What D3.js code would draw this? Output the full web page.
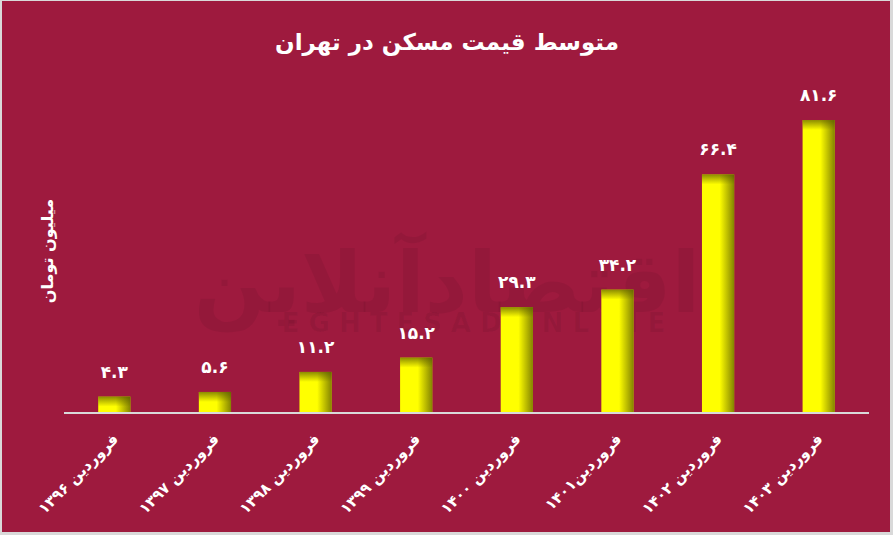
<!DOCTYPE html>
<html><head><meta charset="utf-8">
<script src="https://cdn.jsdelivr.net/npm/d3@7"></script>
<style>
html,body{margin:0;padding:0;background:#fff;}
svg{display:block;}
text{font-family:"DejaVu Sans",sans-serif;}
</style></head>
<body>
<svg id="chart" width="893" height="535"></svg>
<script>
const title = "متوسط قیمت مسکن در تهران";
const yAxisTitle = "میلیون تومان";
const categories = ["فروردین ۱۳۹۶","فروردین ۱۳۹۷","فروردین ۱۳۹۸","فروردین ۱۳۹۹","فروردین ۱۴۰۰","فروردین۱۴۰۱","فروردین ۱۴۰۲","فروردین ۱۴۰۳"];
const values = [4.3, 5.6, 11.2, 15.2, 29.3, 34.2, 66.4, 81.6];
const yDomain = [0, 90];

const W = 893, H = 535;
const bg = "#9E1A3E";
const svg = d3.select("#chart");

const toFa = s => String(s).replace(/\d/g, d => "۰۱۲۳۴۵۶۷۸۹"[+d]);

const defs = svg.append("defs");
const gH = defs.append("linearGradient").attr("id","shadeR").attr("x1","0").attr("x2","1").attr("y1","0").attr("y2","0");
gH.append("stop").attr("offset","0.55").attr("stop-color","#5a5a00").attr("stop-opacity",0);
gH.append("stop").attr("offset","1").attr("stop-color","#5a5a00").attr("stop-opacity",0.75);
const gV = defs.append("linearGradient").attr("id","shadeT").attr("x1","0").attr("x2","0").attr("y1","0").attr("y2","1");
gV.append("stop").attr("offset","0").attr("stop-color","#5a5a00").attr("stop-opacity",0.7);
gV.append("stop").attr("offset","1").attr("stop-color","#5a5a00").attr("stop-opacity",0);

// background + frame
svg.append("rect").attr("x",0).attr("y",0).attr("width",W).attr("height",H).attr("fill","#d9d9d9");
svg.append("rect").attr("x",2).attr("y",1).attr("width",W-5).attr("height",H-4).attr("fill",bg);

// watermark (faint logo)
const wm = svg.append("g").attr("fill","#000").attr("fill-opacity",0.06).attr("text-anchor","middle");
wm.append("text").attr("x",447).attr("y",312).attr("font-size",84).attr("font-weight","bold").attr("direction","rtl").text("اقتصادآنلاین");
wm.append("text").attr("x",478).attr("y",332).attr("font-size",26).attr("font-weight","bold").attr("letter-spacing",9).text("EGHTESADONLINE");

const x = d3.scaleBand().domain(categories).range([64, 869]).paddingInner(0.68).paddingOuter(0.34);
const y = d3.scaleLinear().domain(yDomain).range([412, 90]);

// axis line
svg.append("line").attr("x1",64).attr("x2",869).attr("y1",413).attr("y2",413).attr("stroke","#d9d9d9").attr("stroke-width",2);

const bars = svg.append("g").selectAll("g").data(values).join("g");
bars.append("rect").attr("x",(d,i)=>x(categories[i])).attr("y",d=>y(d)).attr("width",x.bandwidth()).attr("height",d=>y(0)-y(d)).attr("fill","#ffff00");
bars.append("rect").attr("x",(d,i)=>x(categories[i])).attr("y",d=>y(d)).attr("width",x.bandwidth()).attr("height",d=>y(0)-y(d)).attr("fill","url(#shadeR)");
bars.append("rect").attr("x",(d,i)=>x(categories[i])).attr("y",d=>y(d)).attr("width",x.bandwidth()).attr("height",d=>Math.min(10,y(0)-y(d))).attr("fill","url(#shadeT)");

// value labels
svg.append("g").selectAll("text").data(values).join("text")
  .attr("x",(d,i)=>x(categories[i])+x.bandwidth()/2)
  .attr("y",d=>y(d)-19)
  .attr("text-anchor","middle").attr("fill","#fff").attr("font-size",17).attr("font-weight","bold")
  .text(d=>toFa(d.toFixed(1)));

// x labels
svg.append("g").selectAll("text").data(categories).join("text")
  .attr("transform",d=>`translate(${x(d)+x.bandwidth()/2+5},${440}) rotate(-45)`)
  .attr("text-anchor","end").attr("fill","#fff").attr("font-size",15).attr("font-weight","bold")
  .text(d=>d);

// title
svg.append("text").attr("x",447).attr("y",50).attr("text-anchor","middle").attr("fill","#fff")
  .attr("font-size",23).attr("font-weight","bold").attr("direction","rtl").attr("unicode-bidi","plaintext").text(title);

// y axis title
svg.append("text").attr("transform","translate(53,251) rotate(-90)").attr("text-anchor","middle").attr("fill","#fff")
  .attr("font-size",16).attr("font-weight","bold").text(yAxisTitle);
</script>
</body></html>
